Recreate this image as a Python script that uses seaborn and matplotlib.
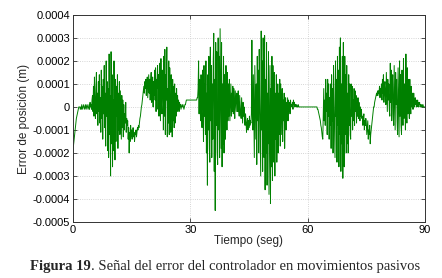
import numpy as np
import pandas as pd
import matplotlib
matplotlib.use("Agg")
import matplotlib.pyplot as plt
import seaborn as sns

# -----------------------------
# Data (error, in units of 1e-5 m, 8 samples per second)
# -----------------------------
SAMPLE_STEP = 0.125
error_1e5 = [
    -19, -17, -15, -13, -11, -9, -7, -5,       # 0 s
    -4, -3, -2, -1, 0, 0, 0, -1,
    0, -1, 1, 0, -1, 0, 1, 0,
    -1, 0, 1, -1, 0, 1, 0, -1,
    0, 1, -1, 2, 0, 1, -1, 3,
    5, -2, 9, -4, 13, 1, -5, 8,                # 5 s
    15, -3, 6, -8, 11, -2, 14, -7,
    4, -11, 16, -5, 9, -14, 12, -3,
    18, -9, 6, -17, 20, -4, 11, -19,
    8, -22, 23, -12, 5, -30, 24, -16,
    14, -26, 3, -19, 20, -8, -23, 12,          # 10 s
    -15, 9, -4, 14, -18, 6, -10, 11,
    -12, 7, -3, -14, 5, -9, 3, -13,
    1, -10, -3, -7, 2, -11, -5, -8,
    -6, -14, -9, -20, -11, -15, -8, -13,
    -10, -14, -12, -9, -13, -11, -15, -12,     # 15 s
    -12, -10, -13, -11, -9, -10, -8, -9,
    -7, -5, -4, -2, 0, 1, 3, 5,
    7, 9, 6, 11, 8, 12, 5, 10,
    13, 4, 9, 14, 6, 12, 3, 11,
    15, 2, 9, 13, 0, 11, 5, 16,                # 20 s
    3, 17, -2, 12, 8, 18, -1, 14,
    -4, 19, 6, -6, 21, 2, -3, 16,
    10, -10, 22, -4, 25, -12, 14, 3,
    26, -13, 8, -7, 20, -12, 17, -2,
    -11, 14, 3, -13, 12, -6, 9, -9,            # 25 s
    10, -7, 6, -4, 8, -2, 5, -1,
    3, -2, 2, 0, 1, -1, 0, 1,
    0, 1, 0, -1, 0, 1, 1, 2,
    3, 3, 3, 3, 3, 3, 3, 3,
    3, 3, 3, 3, 3, 3, 3, 3,                    # 30 s
    3, 3, 3, 3, 3, 3, 4, 4,
    8, 20, -3, 12, 4, -6, 14, -2,
    -9, 16, 5, -15, 18, -4, 10, -12,
    20, -20, 6, -34, 14, -10, 22, -18,
    -24, 26, -6, 18, -22, 10, -14, 20,         # 35 s
    32, -28, 12, -45, 28, -8, 24, -20,
    -25, 30, -10, 22, -22, 34, 6, -18,
    28, -26, 10, -16, 22, -20, 14, -8,
    -14, 18, 2, -10, 15, -6, 10, -4,
    12, -6, 3, 10, -4, 6, -2, 9,               # 40 s
    -3, 8, 0, -5, 7, 2, -2, 6,
    4, -2, 7, 0, -4, 5, 1, -3,
    -5, 4, -1, -7, 2, -4, 0, -6,
    -8, -3, -6, -11, -7, -5, -10, -6,
    -9, -4, -8, -6, -7, -3, 29, -5,            # 45 s
    -10, 14, -4, -22, 18, 2, -14, 10,
    -25, 22, -6, 16, -20, 25, 4, -12,
    -30, 33, -10, 20, -28, 30, 8, -22,
    31, -36, 12, -20, 28, -34, 6, -16,
    24, -38, -10, 18, -42, 8, -26, 22,         # 50 s
    -32, 18, -8, -24, 15, -30, 6, -14,
    14, -24, -4, 10, -20, 6, -12, 12,
    -17, 10, -2, -12, 8, -15, 3, -6,
    6, -18, -4, 4, -10, 2, -6, 4,
    -6, 3, -2, 2, -3, 3, 0, 1,                 # 55 s
    0, 2, -1, 3, 1, 2, 0, 1,
    1, 0, 1, 0, 0, 1, 0, 0,
    0, 0, 0, 0, 0, 0, 0, 0,
    0, 0, 0, 0, 0, 0, 0, 0,
    0, 0, 0, 0, 0, 0, 0, 0,                    # 60 s
    0, 0, 0, 0, 0, 0, 0, 0,
    0, 0, 0, 0, -1, -1, -2, -3,
    -4, -5, -6, -8, -9, -11, -13, -14,
    -4, 8, -6, 3, -8, 12, -2, 6,
    -12, 12, -4, 10, -14, 4, -8, 10,           # 65 s
    -18, 14, -6, 8, -20, 18, 2, -10,
    -22, 20, -4, 12, -24, 22, -8, 16,
    -26, 26, -12, 30, -28, 10, -16, 22,
    -31, 28, 4, -26, 22, -12, 14, -20,
    18, -16, 6, -20, 14, -8, 10, -12,          # 70 s
    -14, 10, -4, 9, -10, 3, -6, 8,
    -8, 7, -2, 5, -7, 2, -4, 4,
    -5, 2, -3, -6, 0, -4, -1, -5,
    -4, -8, -5, -3, -10, -6, -8, -5,
    -7, -12, -9, -6, -14, -10, -12, -8,        # 75 s
    -16, -12, -10, -8, -6, -4, -2, 0,
    0, 2, 3, 4, 5, 6, 5, 7,
    5, 7, 6, 9, 4, 8, 7, 10,
    3, 12, 6, 14, 2, 9, 11, 5,
    1, 15, 6, -2, 12, 3, 10, -1,               # 80 s
    -4, 19, 2, 16, -6, 10, 14, -3,
    -8, 18, 4, -10, 15, 1, 12, -6,
    -12, 17, 3, -13, 20, -4, 14, -8,
    -12, 16, 2, -8, 21, -5, 10, 4,
    -10, 23, 1, -7, 17, -3, 12, 6,             # 85 s
    -5, 12, 2, -3, 9, 0, 6, -1,
    -1, 6, 1, 0, 4, 1, 3, 0,
    1, 3, 0, 2, 1, 2, 0, 1,
    1, 0, 1, 0, 1, 0, 0, 0,
    0,                                         # 90 s
]

X_TICKS = [0, 30, 60, 90]
Y_TICKS = [-0.0005, -0.0004, -0.0003, -0.0002, -0.0001, 0, 0.0001, 0.0002, 0.0003, 0.0004]

df = pd.DataFrame({
    "t": np.arange(len(error_1e5)) * SAMPLE_STEP,
    "err": np.array(error_1e5) * 1e-5,
})

# -----------------------------
# Plot
# -----------------------------
sns.set_style("ticks")
plt.rcParams["font.family"] = ["Liberation Sans", "DejaVu Sans"]

fig = plt.figure(figsize=(4.42, 2.78), dpi=100)
ax = fig.add_axes([0.165, 0.2014, 0.7965, 0.745])

sns.lineplot(data=df, x="t", y="err", ax=ax, color="#008000",
             linewidth=0.7, estimator=None)

ax.set_xlim(0, 90)
ax.set_ylim(-0.0005, 0.0004)
ax.set_xticks(X_TICKS)
ax.set_yticks(Y_TICKS)
ax.set_xticklabels([str(v) for v in X_TICKS])
ax.set_yticklabels(["0" if v == 0 else f"{v:.4f}" for v in Y_TICKS])
ax.tick_params(direction="in", length=3, width=0.6, labelsize=8,
               top=True, right=True, colors="#333333", labelcolor="black", pad=2)
ax.grid(True, linestyle=":", linewidth=0.6, color="#c8c8c8")
for sp in ax.spines.values():
    sp.set_visible(True)
    sp.set_linewidth(0.7)
    sp.set_color("#333333")

ax.set_xlabel("Tiempo (seg)", fontsize=8.5, labelpad=0)
ax.set_ylabel("Error de posición (m)", fontsize=8.5, labelpad=2)

# caption with bold figure number
cap1 = fig.text(0.068, 0.03, "Figura 19", fontsize=10.5, fontweight="bold",
                family=["Liberation Serif", "DejaVu Serif"], va="baseline")
ax.annotate(". Señal del error del controlador en movimientos pasivos",
            xy=(1, 0), xycoords=cap1, va="bottom", ha="left", fontsize=10.5,
            family=["Liberation Serif", "DejaVu Serif"], annotation_clip=False)

fig.savefig("out.png", dpi=100)
plt.close(fig)
